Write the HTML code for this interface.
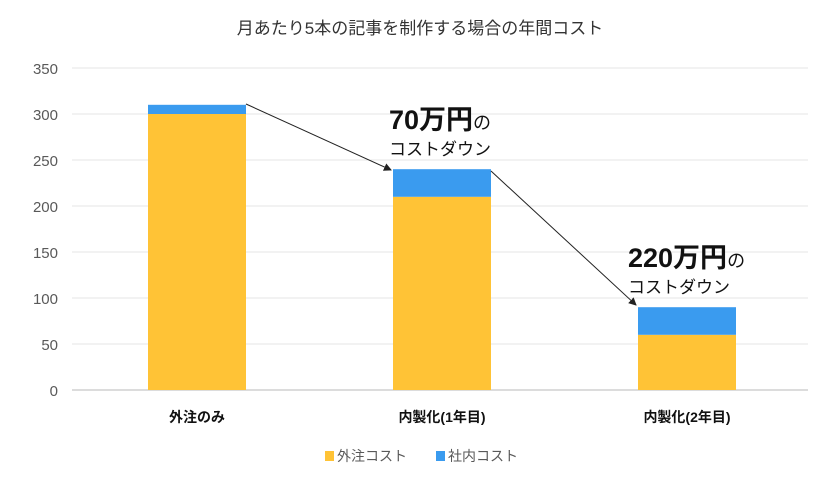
<!DOCTYPE html>
<html><head><meta charset="utf-8"><style>
body{margin:0;background:#fff;width:840px;height:476px;overflow:hidden;font-family:"Liberation Sans","Noto Sans CJK JP",sans-serif}
</style></head><body>
<svg id="c" width="840" height="476" xmlns="http://www.w3.org/2000/svg" font-family="Liberation Sans, Noto Sans CJK JP, sans-serif">
<defs><marker id="ah" markerWidth="8" markerHeight="8" refX="7" refY="4" orient="auto"><path d="M0,0 L8,4 L0,8 z" fill="#222"/></marker></defs>
<text x="420" y="34" text-anchor="middle" font-size="17" fill="#333">月あたり5本の記事を制作する場合の年間コスト</text>
<g id="grid"></g><g id="bars"></g><g id="xl"></g>
<line x1="246" y1="104" x2="391" y2="170" stroke="#222" stroke-width="1" marker-end="url(#ah)"/>
<line x1="491" y1="171" x2="636" y2="305" stroke="#222" stroke-width="1" marker-end="url(#ah)"/>
<g><text x="389" y="129" font-size="27" font-weight="bold" fill="#111">70万円<tspan font-size="18" font-weight="normal">の</tspan></text>
<text x="389" y="155" font-size="17" fill="#111">コストダウン</text></g>
<g><text x="628" y="267" font-size="27" font-weight="bold" fill="#111">220万円<tspan font-size="18" font-weight="normal">の</tspan></text>
<text x="628" y="293" font-size="17" fill="#111">コストダウン</text></g>
<g>
<rect x="325" y="451" width="9" height="10" fill="#FFC336"/>
<text x="337" y="461" font-size="14" fill="#595959">外注コスト</text>
<rect x="436" y="451" width="9" height="10" fill="#3A9BEF"/>
<text x="448" y="461" font-size="14" fill="#595959">社内コスト</text>
</g>
</svg>
<script>
const categories=["外注のみ","内製化(1年目)","内製化(2年目)"];
const outsource=[300,210,60];
const inhouse=[10,30,30];
const ticks=[0,50,100,150,200,250,300,350];
const NS="http://www.w3.org/2000/svg";
const y0=390,y1=68,maxV=350,left=72,right=808;
const y=v=>y0-(v/maxV)*(y0-y1);
const bandL=74.5,bandW=245;
const cx=i=>bandL+bandW*(i+0.5);
function mk(t,a,p){const e=document.createElementNS(NS,t);for(const k in a)e.setAttribute(k,a[k]);p.appendChild(e);return e;}
const g=document.getElementById('grid');
ticks.forEach(t=>{
 const l=mk('line',{x1:left,x2:right,y1:y(t),y2:y(t),stroke:t===0?'#d0d0d0':'#e6e6e6','stroke-width':t===0?1.5:1},g);
 
 
 const tx=mk('text',{x:58,y:y(t)+6,'text-anchor':'end','font-size':15,fill:'#595959'},g);
 tx.textContent=t;
 
 
});
const b=document.getElementById('bars'),xl=document.getElementById('xl');
categories.forEach((c,i)=>{
 const w=98,x=cx(i)-w/2;
 const r1=mk('rect',{x:x,y:y(outsource[i]),width:w,height:y0-y(outsource[i]),fill:'#FFC336'},b);
 
 
 const r2=mk('rect',{x:x,y:y(outsource[i]+inhouse[i]),width:w,height:y(outsource[i])-y(outsource[i]+inhouse[i]),fill:'#3A9BEF'},b);
 
 
 const t=mk('text',{x:cx(i),y:422,'text-anchor':'middle','font-size':14,'font-weight':'bold',fill:'#111'},xl);
 t.textContent=c;
 
 
});
</script>
</body></html>
